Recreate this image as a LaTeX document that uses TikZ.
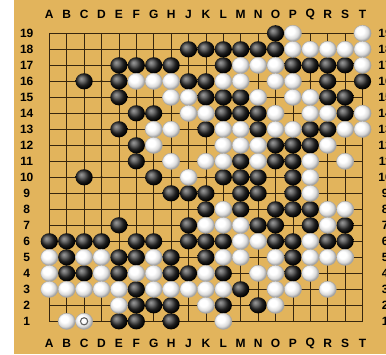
\documentclass[tikz,border=0pt]{standalone}
\usepackage{fontspec}
\setmainfont{Liberation Sans}
\usepackage{tikz}
\usetikzlibrary{calc}

\definecolor{wood}{RGB}{226,180,92}
\definecolor{gridcol}{RGB}{55,38,14}

\pgfdeclareradialshading{bball}{\pgfqpoint{-9bp}{9bp}}{color(0bp)=(black!40); color(7bp)=(black!55); color(18bp)=(black!88); color(27bp)=(black); color(50bp)=(black)}
\pgfdeclareradialshading{wball}{\pgfqpoint{-9bp}{9bp}}{color(0bp)=(white); color(11bp)=(white); color(21bp)=(black!14); color(28bp)=(black!40); color(50bp)=(black!40)}

\tikzset{
    bstone/.style={shading=bball},
    wstone/.style={shading=wball, draw=black!35, line width=0.4pt},
    coordlabel/.style={font=\fontsize{12}{14}\selectfont\bfseries, text=black, inner sep=0pt},
    gridline/.style={draw=gridcol, line width=0.6pt},
    markring/.style={draw=gray!75!black, line width=1.1pt},
}

\begin{document}
\begin{tikzpicture}
    \useasboundingbox (0,0) rectangle (386pt,354pt);
    \fill[white] (0,0) rectangle (14pt,354pt);
    \fill[wood] (14pt,0) rectangle (386pt,354pt);

    \begin{scope}[shift={(31.9pt,16.7pt)}, x=17.4pt, y=16pt]

        \foreach \i in {1,...,19} {
            \draw[gridline] (\i,1) -- (\i,19);
            \draw[gridline] (1,\i) -- (19,\i);
        }
        \foreach \c in {4,10,16}
            \foreach \r in {4,10,16}
                \fill[gridcol] (\c,\r) circle[radius=1.4pt];

        \foreach \c/\l in {1/A,2/B,3/C,4/D,5/E,6/F,7/G,8/H,9/J,10/K,11/L,12/M,13/N,14/O,15/P,16/Q,17/R,18/S,19/T} {
            \node[coordlabel] (top-\l) at (\c,20.17) {\l};
            \node[coordlabel] (bot-\l) at (\c,-0.36) {\l};
        }
        \foreach \r in {1,...,19} {
            \node[coordlabel] (left-\r) at (-0.3,\r) {\r};
            \node[coordlabel] (right-\r) at (20.3,\r) {\r};
        }

        % black
        \foreach \r/\cs in {19/{14}, 18/{9,10,11,12,13,14}, 17/{5,6,7,8,11,15,16,17,18},
                16/{3,5,9,10,17,19}, 15/{5,10,11,12,17,18}, 14/{6,7,11,12,13,18},
                13/{5,10,13,16,17}, 12/{6,14,15,16}, 11/{6,12,14,15},
                10/{3,7,11,12,13,15}, 9/{8,9,10,12,13,15}, 8/{10,12,14,15,16},
                7/{5,9,13,14,16,18}, 6/{1,2,3,4,6,7,9,10,11,14,15,17,18},
                5/{2,5,6,8,10,15}, 4/{2,3,5,8,9,11,15}, 3/{6,12},
                2/{6,7,8,11,13}, 1/{5,6,8}}
            \foreach \c in \cs
                \shade[bstone] (\c,\r) ellipse[x radius=8.6pt, y radius=8.1pt];

        % white
        \foreach \r/\cs in {19/{15,19}, 18/{15,16,17,18,19}, 17/{12,13,14,19},
                16/{6,7,8,11,12,14,15}, 15/{8,9,13,15,16}, 14/{9,10,14,16,17,19},
                13/{7,8,11,12,14,15,18,19}, 12/{7,11,12,13,17}, 11/{8,10,11,13,16,18},
                10/{9,16}, 9/{16}, 8/{11,17,18}, 7/{10,11,12,17}, 6/{12,13,16},
                5/{1,3,4,7,11,12,14,16,17,18}, 4/{1,4,6,7,10,13,14,16},
                3/{1,2,3,4,5,7,8,9,10,11,14,15,17}, 2/{5,10,14}, 1/{2,3,11}}
            \foreach \c in \cs
                \shadedraw[wstone] (\c,\r) ellipse[x radius=8.6pt, y radius=8.1pt];

        \coordinate (last) at (3,1);
        \draw[markring] (last) circle[radius=3.6pt];

    \end{scope}
\end{tikzpicture}
\end{document}
